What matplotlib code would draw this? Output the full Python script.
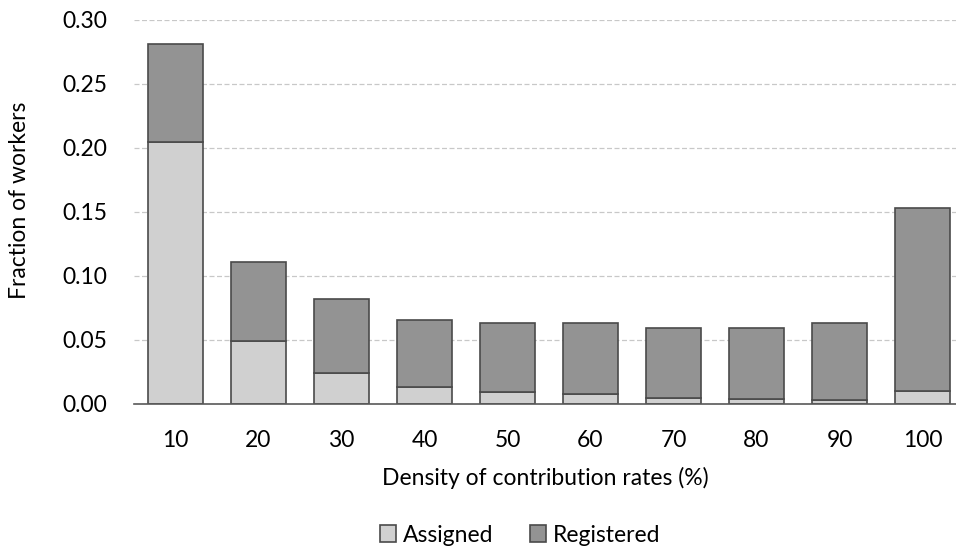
import matplotlib
matplotlib.use("Agg")
import matplotlib.pyplot as plt
import numpy as np

categories = ["10", "20", "30", "40", "50", "60", "70", "80", "90", "100"]
totals = [0.281, 0.111, 0.082, 0.066, 0.063, 0.063, 0.059, 0.059, 0.063, 0.153]
assigned = [0.205, 0.049, 0.024, 0.013, 0.009, 0.008, 0.005, 0.004, 0.003, 0.010]
registered = [t - a for t, a in zip(totals, assigned)]

plt.rcParams['font.family'] = ['Lato', 'DejaVu Sans']

fig = plt.figure(figsize=(9.56, 5.49), dpi=100)
ax = fig.add_axes([134/956, 1-404/549, 1-134/956, 384/549])

x = np.arange(1, len(categories) + 1)
w = 0.66
edge = '#4a4a4a'
ax.bar(x, assigned, w, color='#d0d0d0', edgecolor=edge, linewidth=1.2, label='Assigned', zorder=3)
ax.bar(x, registered, w, bottom=assigned, color='#939393', edgecolor=edge, linewidth=1.2, label='Registered', zorder=3)

ax.set_xlim(0.5, 0.5 + (956-134)/83)
ax.set_ylim(0, 0.30)
ax.set_yticks(np.arange(0, 0.301, 0.05))
ax.set_yticklabels([f"{v:.2f}" for v in np.arange(0, 0.301, 0.05)])
ax.set_xticks(x)
ax.set_xticklabels(categories)
ax.yaxis.grid(True, linestyle=(0, (4, 2)), color='#c8c8c8', linewidth=0.9, zorder=0)
for s in ['left', 'right', 'top']:
    ax.spines[s].set_visible(False)
ax.spines['bottom'].set_color('#595959')
ax.spines['bottom'].set_linewidth(1.2)
ax.spines['bottom'].set_zorder(4)
ax.tick_params(axis='both', length=0, labelsize=16.5, colors='#000000')
ax.tick_params(axis='y', pad=19)
ax.tick_params(axis='x', pad=19)
ax.set_xlabel("Density of contribution rates (%)", fontsize=16.5, labelpad=11)
ax.set_ylabel("Fraction of workers", fontsize=16.5)
ax.yaxis.set_label_coords(-104/822, 0.53)

leg = fig.legend(loc='center', bbox_to_anchor=(520/956, 1-535/549), ncol=2, frameon=False,
                 fontsize=16.5, handlelength=0.7, handleheight=0.7, handletextpad=0.3, columnspacing=1.6)
for p in leg.get_patches():
    p.set_edgecolor('#4a4a4a')

fig.savefig("out.png", dpi=100)
